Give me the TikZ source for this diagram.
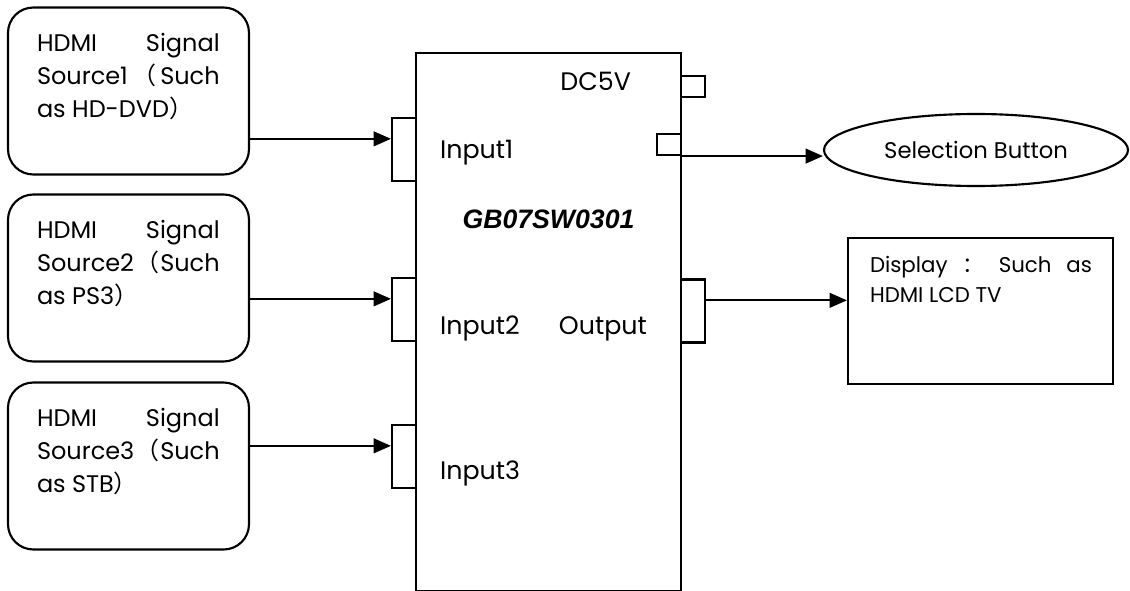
\documentclass[tikz,border=0pt]{standalone}
\usepackage{fontspec}
\setmainfont{Poppins}
\newfontfamily\cjk{Noto Sans CJK SC}
\newfontfamily\titlefont{Liberation Sans}
\usetikzlibrary{positioning,shapes.geometric,arrows.meta}
\newcommand{\fullline}[2][137pt]{\makebox[#1][s]{#2}}
\tikzset{
  srcbox/.style={draw, rounded corners=19pt, minimum width=180.75pt, minimum height=125.25pt},
  srctext/.style={inner sep=0pt, align=left, font=\fontsize{18}{24.75}\selectfont},
  port/.style={draw, fill=white, inner sep=0pt, minimum width=18pt, minimum height=47.25pt},
  smallport/.style={port, minimum height=15.75pt},
  lbl/.style={inner sep=0pt, font=\fontsize{19}{22}\selectfont},
  conn/.style={-{Triangle[length=13pt,width=11pt]}},
}
\begin{document}
\begin{tikzpicture}[x=0.75pt, y=-0.75pt, line width=1.6pt]
  \useasboundingbox (0,0) rectangle (1130,591);

  % signal sources
  \node[srcbox] (src1) at (128.5,91) {};
  \node[srcbox] (src2) at (128.5,278) {};
  \node[srcbox] (src3) at (128.5,466) {};
  \node[srctext, below right=19pt and 21.75pt of src1.north west] (src1t)
    {\fullline{HDMI Signal}\\ \fullline{Source1\hfil{\cjk （}\hfil Such}\\ as HD-DVD{\cjk ）}};
  \node[srctext, below right=19pt and 21.75pt of src2.north west] (src2t)
    {\fullline{HDMI Signal}\\ \fullline{Source2\hfil{\cjk （}\hfil Such}\\ as PS3{\cjk ）}};
  \node[srctext, below right=19pt and 21.75pt of src3.north west] (src3t)
    {\fullline{HDMI Signal}\\ \fullline{Source3\hfil{\cjk （}\hfil Such}\\ as STB{\cjk ）}};

  % switch box and its ports
  \node[draw, minimum width=198.75pt, minimum height=403.5pt] (sw) at (548.5,322) {};
  \node[port] (in1) at (404,149.5) {};
  \node[port] (in2) at (404,309.5) {};
  \node[port] (in3) at (404,456.5) {};
  \node[port] (outp) at (693,311) {};
  \node[smallport] (dcp) at (693,86.5) {};
  \node[smallport] (selp) at (669,144.5) {};

  \node[inner sep=0pt, font=\titlefont\bfseries\itshape\fontsize{20}{24}\selectfont,
    below=118pt of sw.north] (title) {GB07SW0301};
  \node[lbl, anchor=east] (dct) at ([xshift=-36pt,yshift=4pt]dcp.west) {DC5V};
  \node[lbl, anchor=base west] (in1t) at ([xshift=16.5pt,yshift=-6.4pt]in1.east) {Input1};
  \node[lbl, anchor=base west] (in2t) at ([xshift=16.5pt,yshift=-19pt]in2.east) {Input2};
  \node[lbl, anchor=base west] (in3t) at ([xshift=16.5pt,yshift=-17.6pt]in3.east) {Input3};
  \node[lbl, anchor=base east] (outt) at ([xshift=-24pt]outp.west |- in2t.base) {Output};

  % button and display
  \node[draw, ellipse, minimum width=228pt, minimum height=54pt, lbl, font=\fontsize{17}{20}\selectfont] (btn) at (976,150) {Selection Button};
  \node[draw, minimum width=198.75pt, minimum height=109.5pt] (disp) at (980.5,311) {};
  \node[srctext, font=\fontsize{16}{22.5}\selectfont, below right=13.5pt and 16.5pt of disp.north west] (dispt)
    {\fullline[166.5pt]{Display {\cjk ：} Such as}\\ HDMI LCD TV};

  % connections
  \coordinate (a1) at ([yshift=8pt]in1.west);
  \coordinate (a2) at ([yshift=8pt]in2.west);
  \coordinate (a3) at ([yshift=8pt]in3.west);
  \coordinate (ao) at ([yshift=8pt]outp.east);
  \draw[conn] (src1.east |- a1) -- (a1);
  \draw[conn] (src2.east |- a2) -- (a2);
  \draw[conn] (src3.east |- a3) -- (a3);
  \draw[conn] (selp.south east) -- (selp.south east -| btn.west);
  \draw[conn] (ao) -- (ao -| disp.west);
\end{tikzpicture}
\end{document}
